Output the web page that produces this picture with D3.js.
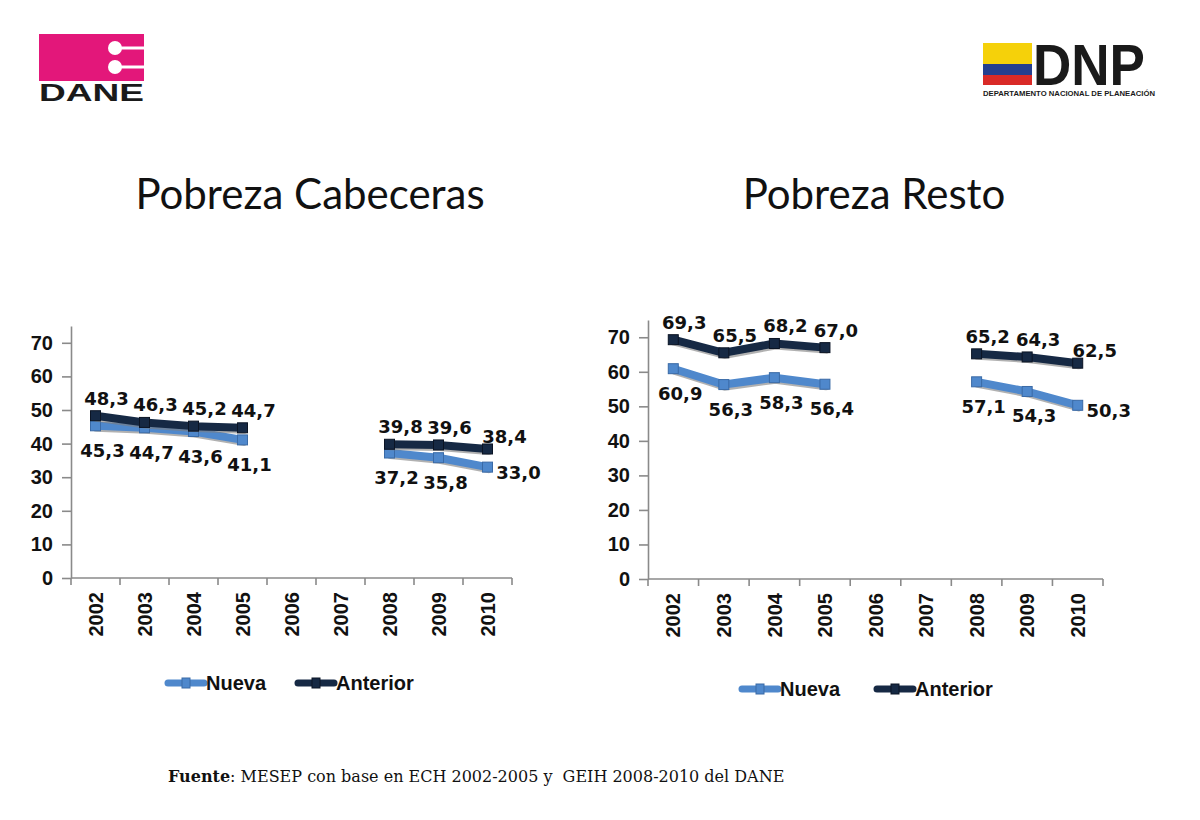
<!DOCTYPE html>
<html>
<head>
<meta charset="utf-8">
<script src="https://cdn.jsdelivr.net/npm/d3@7"></script>
<style>
  body { margin: 0; background: #fff; }
  svg { display: block; }
</style>
</head>
<body>
<div id="chart"></div>
<script>
// data
var years = ['2002', '2003', '2004', '2005', '2006', '2007', '2008', '2009', '2010']
var yTicks = [0, 10, 20, 30, 40, 50, 60, 70]
var seriesNames = ['Nueva', 'Anterior']

var cabecerasNueva = [45.3, 44.7, 43.6, 41.1, null, null, 37.2, 35.8, 33.0]
var cabecerasAnterior = [48.3, 46.3, 45.2, 44.7, null, null, 39.8, 39.6, 38.4]
var restoNueva = [60.9, 56.3, 58.3, 56.4, null, null, 57.1, 54.3, 50.3]
var restoAnterior = [69.3, 65.5, 68.2, 67.0, null, null, 65.2, 64.3, 62.5]

var titles = ['Pobreza Cabeceras', 'Pobreza Resto']

// svg
var w = 1200,
    h = 820

var svg = d3.select('#chart')
    .append('svg')
    .attr('width', w)
    .attr('height', h)

svg.append('rect').attr('width', w).attr('height', h).attr('fill', '#fff')

var colors = { Nueva: '#4f88cc', Anterior: '#162944' }
var edges = { Nueva: '#3a6aa6', Anterior: '#0b1424' }
var fmt = d => d3.format('.1f')(d).replace('.', ',')

// logos
var dane = svg.append('g')
dane.append('rect')
    .attr('x', 39).attr('y', 34).attr('width', 105).attr('height', 47)
    .attr('fill', '#e3177a')
;[48, 67].forEach(cy => {
    dane.append('rect').attr('x', 115).attr('y', cy - 1.5).attr('width', 29).attr('height', 3).attr('fill', '#fff')
    dane.append('circle').attr('cx', 115).attr('cy', cy).attr('r', 7).attr('fill', '#fff')
})
dane.append('text')
    .text('DANE')
    .attr('x', 39).attr('y', 101)
    .attr('textLength', 105).attr('lengthAdjust', 'spacingAndGlyphs')
    .attr('font-family', 'Liberation Sans, Arial, sans-serif')
    .attr('font-weight', 'bold').attr('font-size', 23)
    .attr('fill', '#1a1a1a')

var dnp = svg.append('g')
dnp.append('rect').attr('x', 983).attr('y', 43).attr('width', 49).attr('height', 21).attr('fill', '#f5d10a')
dnp.append('rect').attr('x', 983).attr('y', 64).attr('width', 49).attr('height', 11).attr('fill', '#243f8f')
dnp.append('rect').attr('x', 983).attr('y', 75).attr('width', 49).attr('height', 10).attr('fill', '#d92a27')
dnp.append('text')
    .text('DNP')
    .attr('transform', 'translate(1033,85) scale(1,1.3)')
    .attr('textLength', 112).attr('lengthAdjust', 'spacingAndGlyphs')
    .attr('font-family', 'Liberation Sans, Arial, sans-serif')
    .attr('font-weight', 'bold').attr('font-size', 44)
    .attr('fill', '#1a1a1a')
dnp.append('text')
    .text('DEPARTAMENTO NACIONAL DE PLANEACIÓN')
    .attr('x', 983).attr('y', 96)
    .attr('textLength', 172).attr('lengthAdjust', 'spacingAndGlyphs')
    .attr('font-family', 'Liberation Sans, Arial, sans-serif')
    .attr('font-weight', 'bold').attr('font-size', 7.5)
    .attr('fill', '#1a1a1a')

// panels
var panels = [
    { title: titles[0], cx: 310, x0: 71, x1: 512, y0: 578, y1: 326, legendX: 168, legendY: 683, legendGap: 130,
      series: { Nueva: cabecerasNueva, Anterior: cabecerasAnterior } },
    { title: titles[1], cx: 874, x0: 648, x1: 1103, y0: 579, y1: 320, legendX: 742, legendY: 689, legendGap: 135,
      series: { Nueva: restoNueva, Anterior: restoAnterior } }
]

panels.forEach(p => {
    var g = svg.append('g')

    g.append('text')
        .text(p.title)
        .attr('x', p.cx).attr('y', 209)
        .attr('text-anchor', 'middle')
        .attr('font-family', 'Lato, Open Sans, sans-serif')
        .attr('font-size', 42)
        .attr('fill', '#111')

    var xscale = d3.scaleBand().domain(years).range([p.x0, p.x1])
    var yscale = d3.scaleLinear().domain([0, 75]).range([p.y0, p.y1])
    var bw = xscale.bandwidth()
    var cx = d => xscale(d) + bw / 2

    // y axis
    var yaxis = d3.axisLeft(yscale)
        .tickValues(yTicks)
        .tickSize(9)
        .tickSizeOuter(0)
        .tickPadding(9)
    var ya = g.append('g')
        .attr('transform', `translate(${p.x0},0)`)
        .call(yaxis)
    ya.selectAll('path, line').attr('stroke', '#8a8a8a').attr('stroke-width', 1.6)
    ya.selectAll('text')
        .attr('font-family', 'Liberation Sans, Arial, sans-serif')
        .attr('font-weight', 'bold')
        .attr('font-size', 20)
        .attr('fill', '#111')

    // x axis line with ticks between categories
    g.append('line')
        .attr('x1', p.x0).attr('x2', p.x1)
        .attr('y1', p.y0).attr('y2', p.y0)
        .attr('stroke', '#8a8a8a').attr('stroke-width', 1.6)
    g.selectAll('.xtick')
        .data(years.concat(['end']))
        .enter()
        .append('line')
        .attr('x1', (d, i) => i < years.length ? xscale(d) : p.x1)
        .attr('x2', (d, i) => i < years.length ? xscale(d) : p.x1)
        .attr('y1', p.y0).attr('y2', p.y0 + 7)
        .attr('stroke', '#8a8a8a').attr('stroke-width', 1.6)
    g.selectAll('.xlab')
        .data(years)
        .enter()
        .append('text')
        .text(d => d)
        .attr('transform', d => `translate(${cx(d)},${p.y0 + 14}) rotate(-90)`)
        .attr('dy', '0.36em')
        .attr('text-anchor', 'end')
        .attr('font-family', 'Liberation Sans, Arial, sans-serif')
        .attr('font-weight', 'bold')
        .attr('font-size', 20)
        .attr('fill', '#111')

    // lines
    seriesNames.forEach(name => {
        var vals = p.series[name]
        var pts = years.map((y, i) => ({ year: y, v: vals[i], i: i }))
        var line = d3.line()
            .defined(d => d.v != null)
            .x(d => cx(d.year))
            .y(d => yscale(d.v))

        g.append('path')
            .datum(pts)
            .attr('d', line)
            .attr('transform', 'translate(1,2)')
            .attr('fill', 'none')
            .attr('stroke', '#7d7d7d')
            .attr('stroke-width', 8)
            .attr('stroke-linecap', 'round')
            .attr('opacity', 0.6)
        g.append('path')
            .datum(pts)
            .attr('d', line)
            .attr('fill', 'none')
            .attr('stroke', colors[name])
            .attr('stroke-width', 8)
            .attr('stroke-linecap', 'round')
            .attr('stroke-linejoin', 'round')

        var def = pts.filter(d => d.v != null)
        g.selectAll('.m' + name)
            .data(def)
            .enter()
            .append('rect')
            .attr('x', d => cx(d.year) - 5)
            .attr('y', d => yscale(d.v) - 5)
            .attr('width', 10).attr('height', 10)
            .attr('fill', colors[name])
            .attr('stroke', edges[name])
            .attr('stroke-width', 1)

        // labels
        var last = years.length - 1
        g.selectAll('.l' + name)
            .data(def)
            .enter()
            .append('text')
            .text(d => fmt(d.v))
            .attr('x', d => cx(d.year) + (name === 'Anterior' ? (d.i === last ? 17 : 11) : (d.i === last ? 31 : 7)))
            .attr('y', d => yscale(d.v) + (name === 'Anterior' ? (d.i === last ? -6 : -11) : (d.i === last ? 12 : 31)))
            .attr('text-anchor', 'middle')
            .attr('font-family', 'DejaVu Sans, Verdana, sans-serif')
            .attr('font-weight', 'bold')
            .attr('font-size', 18)
            .attr('fill', '#111')
    })

    // legend
    seriesNames.forEach((name, k) => {
        var lx = p.legendX + k * p.legendGap
        g.append('line')
            .attr('x1', lx).attr('x2', lx + 36)
            .attr('y1', p.legendY).attr('y2', p.legendY)
            .attr('stroke', colors[name])
            .attr('stroke-width', 7)
            .attr('stroke-linecap', 'round')
        g.append('rect')
            .attr('x', lx + 14).attr('y', p.legendY - 5)
            .attr('width', 8).attr('height', 10)
            .attr('fill', colors[name])
            .attr('stroke', edges[name])
        g.append('text')
            .text(name)
            .attr('x', lx + 38).attr('y', p.legendY + 7)
            .attr('font-family', 'Liberation Sans, Arial, sans-serif')
            .attr('font-weight', 'bold')
            .attr('font-size', 20)
            .attr('fill', '#111')
    })
})

// source
var src = svg.append('text')
    .attr('x', 168).attr('y', 782)
    .attr('font-family', 'DejaVu Serif, Liberation Serif, serif')
    .attr('font-size', 16)
    .attr('fill', '#111')
src.append('tspan').text('Fuente').attr('font-weight', 'bold')
src.append('tspan').text(': MESEP con base en ECH 2002-2005 y  GEIH 2008-2010 del DANE').style('white-space', 'pre')
</script>
</body>
</html>
